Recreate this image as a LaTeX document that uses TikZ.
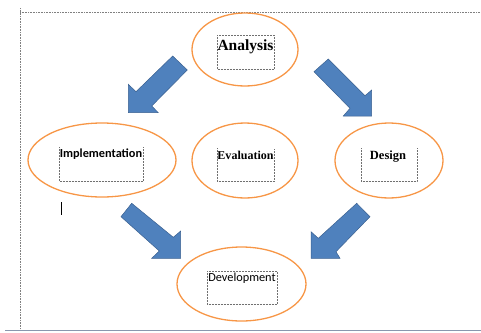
\documentclass[tikz,border=0pt]{standalone}
\usepackage{fontspec}
\setmainfont{Liberation Serif}
\newfontfamily\calibri{Carlito}
\usetikzlibrary{shapes.geometric}
\definecolor{ovalC}{HTML}{F79646}
\definecolor{arrFill}{HTML}{4F81BD}
\definecolor{arrDraw}{HTML}{3A6090}
\definecolor{boxC}{HTML}{707070}
\definecolor{baseC}{HTML}{8A97AE}
\tikzset{
  oval/.style={draw=ovalC, line width=1.3pt, ellipse, inner sep=0pt},
  blockarrow/.style={fill=arrFill, draw=arrDraw, line width=0.5pt, line join=miter},
  tbox/.style={draw=boxC, line width=0.5pt, densely dotted},
  lbl/.style={inner sep=0pt, anchor=base},
}
\begin{document}
\begin{tikzpicture}[x=1pt,y=-1pt]
\useasboundingbox (0,0) rectangle (481,332);
% page frame
\draw[gray, densely dotted, line width=0.6pt] (20,12) -- (481,12);
\draw[gray, densely dotted, line width=0.6pt] (20,8) -- (20,330);
\draw[baseC, line width=0.8pt] (5,330) -- (481,330);
% ellipses
\node[oval, minimum width=106pt, minimum height=73pt] (anaE) at (245,49.5) {};
\node[oval, minimum width=148pt, minimum height=74pt] (impE) at (102,160) {};
\node[oval, minimum width=106pt, minimum height=75pt] (evaE) at (245,160.5) {};
\node[oval, minimum width=108pt, minimum height=75pt] (desE) at (389,160.5) {};
\node[oval, minimum width=129pt, minimum height=74pt] (devE) at (241.5,284) {};
% text boxes
\draw[tbox] (217,35) rectangle (274,69);
\draw[tbox] (59,147) -- (59,181) -- (143,181) -- (143,147);
\draw[tbox] (217,148) -- (217,181) -- (274,181) -- (274,148);
\draw[tbox] (361,148) -- (361,181) -- (417,181) -- (417,148);
\draw[tbox] (207,271) rectangle (277,304);
% labels
\node[lbl] (anaT) at (245.5,50) {\fontsize{15.5}{18}\selectfont\bfseries Analysis};
\node[lbl] (impT) at (101,157.3) {\calibri\fontsize{12.3}{14}\selectfont\bfseries Implementation};
\node[lbl] (evaT) at (245.5,159.3) {\fontsize{12}{14}\selectfont\bfseries Evaluation};
\node[lbl] (desT) at (388,159.3) {\fontsize{12.5}{14}\selectfont\bfseries Design};
\node[lbl] (devT) at (242,281.7) {\calibri\fontsize{12.3}{14}\selectfont Development};
% text cursor
\coordinate (curA) at (61.3,202);
\coordinate (curB) at (61.3,215);
\draw[black, line width=1pt] (curA) -- (curB);
% block arrows
\draw[blockarrow] (172.7,56) -- (187.3,70) -- (151.7,106) -- (158.3,112.7) -- (128.3,112.7) -- (128.3,84.3) -- (136,91.7) -- cycle;
\draw[blockarrow] (328.3,59) -- (365,95.7) -- (371.7,90) -- (371.7,116) -- (343.3,116) -- (350,108.3) -- (314,71.7) -- cycle;
\draw[blockarrow] (131.7,203.3) -- (173.3,237.3) -- (180.7,231) -- (180.7,258.3) -- (151.7,258.3) -- (159.3,251) -- (121,216.7) -- cycle;
\draw[blockarrow] (356.7,203.3) -- (370,216.7) -- (336,251.7) -- (340,258.3) -- (311,258.3) -- (311,231.7) -- (318.3,238.3) -- cycle;
\end{tikzpicture}
\end{document}
